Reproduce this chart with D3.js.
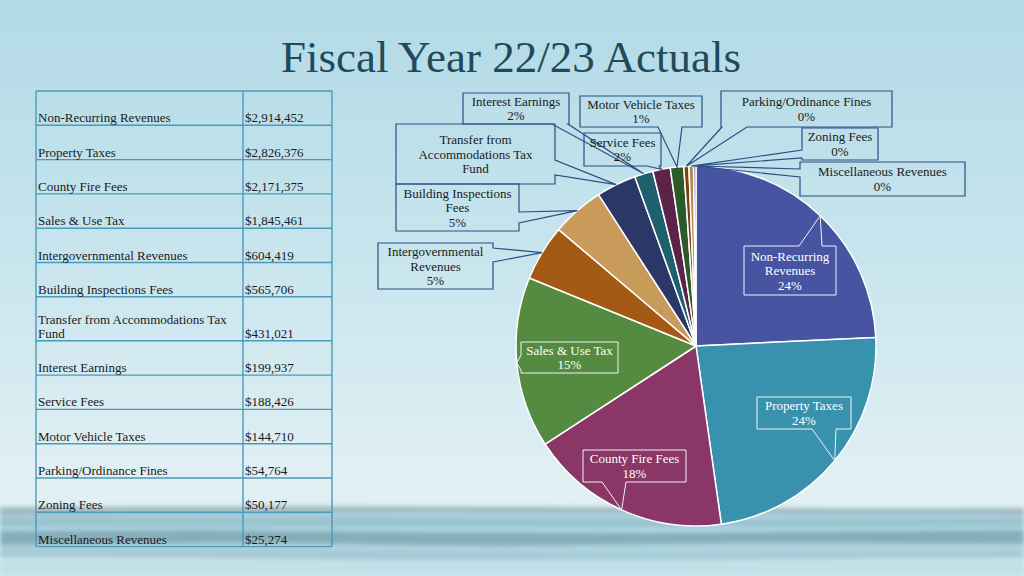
<!DOCTYPE html>
<html>
<head>
<meta charset="utf-8">
<script src="https://cdn.jsdelivr.net/npm/d3@7"></script>
<style>
  html, body { margin: 0; padding: 0; }
  body { width: 1024px; height: 576px; overflow: hidden; }
  svg { display: block; font-family: "Liberation Serif", "DejaVu Serif", serif; }
</style>
</head>
<body>
<div id="chart"></div>
<script>
// revenue categories, in the order of the table and of the pie
var categories = ["Non-Recurring Revenues", "Property Taxes", "County Fire Fees", "Sales & Use Tax",
  "Intergovernmental Revenues", "Building Inspections Fees", "Transfer from Accommodations Tax Fund",
  "Interest Earnings", "Service Fees", "Motor Vehicle Taxes", "Parking/Ordinance Fines",
  "Zoning Fees", "Miscellaneous Revenues"];
var amounts = [2914452, 2826376, 2171375, 1845461, 604419, 565706, 431021,
  199937, 188426, 144710, 54764, 50177, 25274];
var amountLabels = ["$2,914,452", "$2,826,376", "$2,171,375", "$1,845,461", "$604,419", "$565,706",
  "$431,021", "$199,937", "$188,426", "$144,710", "$54,764", "$50,177", "$25,274"];
var tableLines = [["Non-Recurring Revenues"], ["Property Taxes"], ["County Fire Fees"], ["Sales & Use Tax"],
  ["Intergovernmental Revenues"], ["Building Inspections Fees"], ["Transfer from Accommodations Tax", "Fund"],
  ["Interest Earnings"], ["Service Fees"], ["Motor Vehicle Taxes"], ["Parking/Ordinance Fines"],
  ["Zoning Fees"], ["Miscellaneous Revenues"]];
var calloutLines = [["Non-Recurring", "Revenues", "24%"], ["Property Taxes", "24%"], ["County Fire Fees", "18%"],
  ["Sales & Use Tax", "15%"], ["Intergovernmental", "Revenues", "5%"], ["Building Inspections", "Fees", "5%"],
  ["Transfer from", "Accommodations Tax", "Fund"], ["Interest Earnings", "2%"], ["Service Fees", "2%"],
  ["Motor Vehicle Taxes", "1%"], ["Parking/Ordinance Fines", "0%"], ["Zoning Fees", "0%"],
  ["Miscellaneous Revenues", "0%"]];
var sliceColors = ["#4654a1", "#3891ad", "#8a3666", "#558b40", "#a45a15", "#c99b5b", "#2b3767",
  "#1f606e", "#5b2347", "#2d5a2b", "#7a4212", "#b48a52", "#5a66ae"];

// callout boxes: x0,y0,x1,y1, side of pointer, base of pointer along that side, inside pie or not
var callouts = [
  {box: [744, 246, 836, 295], side: "top", base: [799, 822], inner: true},
  {box: [757, 397, 851, 429], side: "bottom", base: [812, 836], inner: true},
  {box: [583, 450, 686, 482], side: "bottom", base: [602, 626], inner: true},
  {box: [521, 342, 618, 373], side: "left", base: [355, 370], inner: true},
  {box: [378, 243, 493, 289], side: "right", base: [248, 262], inner: false},
  {box: [396, 184, 519, 231], side: "right", base: [212, 223], inner: false},
  {box: [396, 124, 555, 184], side: "right", base: [160, 175], inner: false},
  {box: [463, 93, 569, 124], side: "bottom", base: [552, 568], inner: false},
  {box: [584, 133, 661, 166], side: "bottom", base: [647, 659], inner: false},
  {box: [580, 96, 702, 127], side: "bottom", base: [658, 682], inner: false},
  {box: [721, 91, 892, 127], side: "bottom", base: [722, 747], inner: false},
  {box: [802, 128, 878, 160], side: "left", base: [150, 158], inner: false},
  {box: [800, 162, 965, 196], side: "left", base: [169, 177], inner: false}
];

var W = 1024, H = 576;
var svg = d3.select("#chart").append("svg").attr("width", W).attr("height", H);
var defs = svg.append("defs");

// background: sky gradient with a soft water band near the bottom
var bg = defs.append("linearGradient").attr("id", "bg").attr("x1", 0).attr("y1", 0).attr("x2", 0).attr("y2", 1);
bg.append("stop").attr("offset", "0%").attr("stop-color", "#b2dae6");
bg.append("stop").attr("offset", "45%").attr("stop-color", "#c8e5ee");
bg.append("stop").attr("offset", "85%").attr("stop-color", "#e2f0f4");
bg.append("stop").attr("offset", "100%").attr("stop-color", "#d2e9f0");
svg.append("rect").attr("width", W).attr("height", H).attr("fill", "url(#bg)");

defs.append("filter").attr("id", "blur").append("feGaussianBlur").attr("stdDeviation", 2);
var water = svg.append("g").attr("filter", "url(#blur)");
water.append("rect").attr("x", 0).attr("y", 508).attr("width", W).attr("height", 50).attr("fill", "#add4df");
water.append("path").attr("fill", "#a3bcc4")
  .attr("d", "M0,507 L300,506 L620,507 L900,509 L1024,508 L1024,515 L700,514 L400,513 L0,516 Z");
water.append("path").attr("fill", "#98c3cf")
  .attr("d", "M0,518 L350,517 L700,519 L1024,518 L1024,526 L600,527 L0,526 Z");
water.append("path").attr("fill", "#86adba")
  .attr("d", "M0,531 L200,530 L420,532 L650,533 L880,531 L1024,530 L1024,544 L760,543 L500,546 L250,543 L0,545 Z");
water.append("path").attr("fill", "#a6cbd6")
  .attr("d", "M0,548 L300,549 L600,553 L1024,551 L1024,558 L500,561 L0,557 Z");
water.append("rect").attr("x", 0).attr("y", 560).attr("width", W).attr("height", 16).attr("fill", "#c2e0e8");

// title
svg.append("text").attr("x", 511).attr("y", 72).attr("text-anchor", "middle")
  .attr("font-size", 45).attr("fill", "#1f4a5b").text("Fiscal Year 22/23 Actuals");

// table
var tx0 = 36, tx1 = 243, tx2 = 332, ty0 = 91;
var rowH = tableLines.map(function(l) { return l.length > 1 ? 44 : 34.3; });
var rowY = [ty0];
rowH.forEach(function(h, i) { rowY.push(rowY[i] + h); });
var table = svg.append("g");
var lineColor = "#4a9bb8";
rowY.forEach(function(y) {
  table.append("line").attr("x1", tx0).attr("x2", tx2).attr("y1", y).attr("y2", y)
    .attr("stroke", lineColor).attr("stroke-width", 1.4);
});
[tx0, tx1, tx2].forEach(function(x) {
  table.append("line").attr("x1", x).attr("x2", x).attr("y1", ty0).attr("y2", rowY[rowY.length - 1])
    .attr("stroke", lineColor).attr("stroke-width", 1.4);
});
tableLines.forEach(function(lines, i) {
  var bottom = rowY[i + 1] - 3;
  lines.forEach(function(t, j) {
    table.append("text").attr("x", tx0 + 2).attr("y", bottom - (lines.length - 1 - j) * 14)
      .attr("font-size", 13).attr("fill", "#1a1a1a").text(t);
  });
  table.append("text").attr("x", tx1 + 2).attr("y", bottom)
    .attr("font-size", 13).attr("fill", "#1a1a1a").text(amountLabels[i]);
});

// pie
var cx = 696, cy = 346, r = 180;
var pie = d3.pie().sort(null).value(function(d) { return d; });
var arcs = pie(amounts);
var arc = d3.arc().innerRadius(0).outerRadius(r);
var rimArc = d3.arc().innerRadius(r).outerRadius(r);
var g = svg.append("g").attr("transform", "translate(" + cx + "," + cy + ")");
g.selectAll("path.slice").data(arcs).enter().append("path")
  .attr("class", "slice")
  .attr("d", arc)
  .attr("fill", function(d, i) { return sliceColors[i]; })
  .attr("stroke", "#ffffff").attr("stroke-width", 1.5).attr("stroke-linejoin", "round");

// callouts: box outline with a pointer notch that ends on the slice rim
function calloutPath(c, tip) {
  var x0 = c.box[0], y0 = c.box[1], x1 = c.box[2], y1 = c.box[3], a = c.base[0], b = c.base[1];
  var p = d3.path();
  p.moveTo(x0, y0);
  if (c.side === "top") { p.lineTo(a, y0); p.lineTo(tip[0], tip[1]); p.lineTo(b, y0); }
  p.lineTo(x1, y0);
  if (c.side === "right") { p.lineTo(x1, a); p.lineTo(tip[0], tip[1]); p.lineTo(x1, b); }
  p.lineTo(x1, y1);
  if (c.side === "bottom") { p.lineTo(b, y1); p.lineTo(tip[0], tip[1]); p.lineTo(a, y1); }
  p.lineTo(x0, y1);
  if (c.side === "left") { p.lineTo(x0, b); p.lineTo(tip[0], tip[1]); p.lineTo(x0, a); }
  p.closePath();
  return p.toString();
}

var labels = svg.append("g");
arcs.forEach(function(d, i) {
  var c = callouts[i];
  var t = rimArc.centroid(d);
  var tip = [cx + t[0], cy + t[1]];
  labels.append("path").attr("d", calloutPath(c, tip))
    .attr("fill", "none")
    .attr("stroke", c.inner ? "#eef3f8" : "#2a4f82")
    .attr("stroke-width", c.inner ? 1 : 1.2)
    .attr("stroke-linejoin", "miter");
  var lines = calloutLines[i];
  var mx = (c.box[0] + c.box[2]) / 2, my = (c.box[1] + c.box[3]) / 2;
  var lh = 14.5;
  lines.forEach(function(s, j) {
    labels.append("text").attr("x", mx).attr("y", my + (j - (lines.length - 1) / 2) * lh + 4.5)
      .attr("text-anchor", "middle").attr("font-size", 13)
      .attr("fill", c.inner ? "#ffffff" : "#1a1a1a").text(s);
  });
});
</script>
</body>
</html>
